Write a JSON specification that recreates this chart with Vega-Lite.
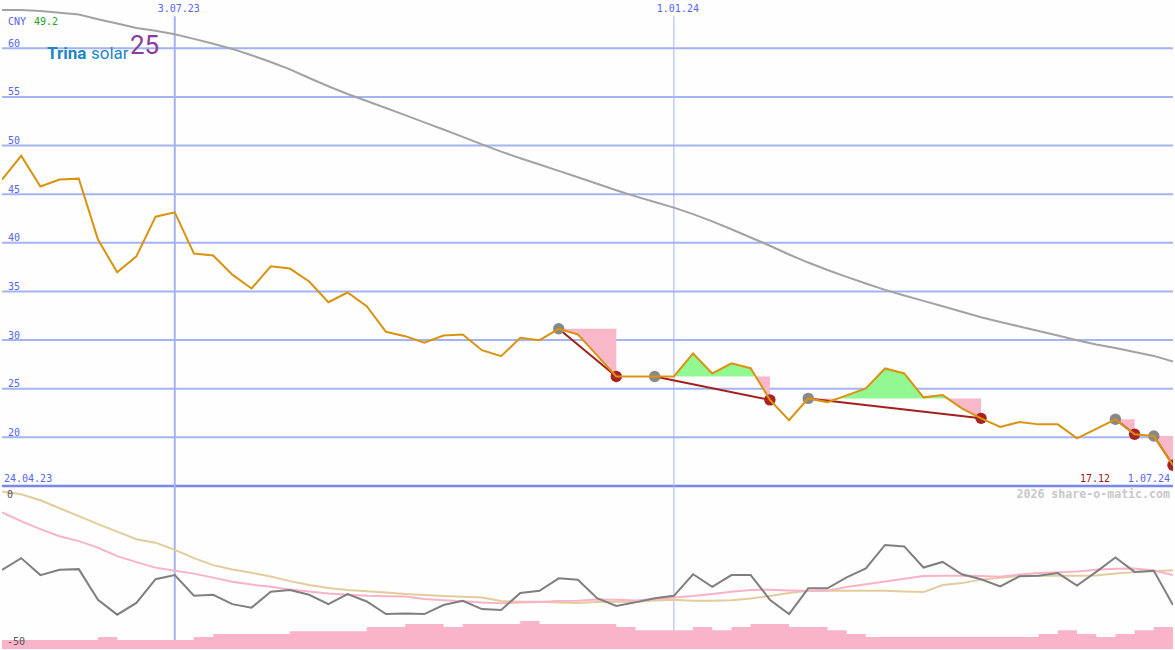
{
"$schema": "https://vega.github.io/schema/vega-lite/v6.json",
"width": 1175, "height": 650,
"autosize": {"type": "fit", "contains": "padding"},
"padding": 0,
"background": "#fdfefd",
"config": {"view": {"stroke": null}},
"resolve": {"scale": {"y": "independent", "color": "independent"}},
"datasets": {
"weekly": [
{"date":"2023-05-01","price":46.49,"ma":63.94,"osc":-24.1,"sig":-4.53,"ema":2.62,"vol":1.4},
{"date":"2023-05-08","price":48.95,"ma":63.94,"osc":-20.1,"sig":-7.5,"ema":1.7,"vol":1.4},
{"date":"2023-05-15","price":45.8,"ma":63.84,"osc":-25.9,"sig":-10.22,"ema":-0.34,"vol":1.4},
{"date":"2023-05-22","price":46.5,"ma":63.66,"osc":-24.1,"sig":-12.61,"ema":-3.07,"vol":1.4},
{"date":"2023-05-29","price":46.6,"ma":63.48,"osc":-23.86,"sig":-14.31,"ema":-5.79,"vol":1.4},
{"date":"2023-06-05","price":40.33,"ma":63.0,"osc":-34.3,"sig":-16.53,"ema":-8.52,"vol":1.85},
{"date":"2023-06-12","price":36.97,"ma":62.56,"osc":-39.4,"sig":-19.43,"ema":-11.08,"vol":1.4},
{"date":"2023-06-19","price":38.61,"ma":62.1,"osc":-35.4,"sig":-21.47,"ema":-13.63,"vol":1.4},
{"date":"2023-06-26","price":42.69,"ma":61.8,"osc":-27.3,"sig":-23.35,"ema":-14.83,"vol":1.4},
{"date":"2023-07-03","price":43.13,"ma":61.45,"osc":-25.9,"sig":-24.44,"ema":-17.28,"vol":1.4},
{"date":"2023-07-10","price":38.89,"ma":60.97,"osc":-32.96,"sig":-25.39,"ema":-20.11,"vol":1.85},
{"date":"2023-07-17","price":38.69,"ma":60.47,"osc":-32.6,"sig":-26.76,"ema":-22.49,"vol":2.3},
{"date":"2023-07-24","price":36.73,"ma":59.94,"osc":-35.8,"sig":-28.15,"ema":-23.99,"vol":2.3},
{"date":"2023-07-31","price":35.3,"ma":59.29,"osc":-37.0,"sig":-29.14,"ema":-25.12,"vol":2.3},
{"date":"2023-08-07","price":37.59,"ma":58.6,"osc":-31.6,"sig":-29.89,"ema":-26.38,"vol":2.3},
{"date":"2023-08-14","price":37.35,"ma":57.83,"osc":-31.0,"sig":-30.78,"ema":-27.95,"vol":2.75},
{"date":"2023-08-21","price":36.02,"ma":56.95,"osc":-32.6,"sig":-31.53,"ema":-29.31,"vol":2.75},
{"date":"2023-08-28","price":33.89,"ma":56.1,"osc":-35.8,"sig":-32.21,"ema":-30.33,"vol":2.75},
{"date":"2023-09-04","price":34.89,"ma":55.3,"osc":-32.4,"sig":-32.58,"ema":-31.02,"vol":2.75},
{"date":"2023-09-11","price":33.48,"ma":54.58,"osc":-34.9,"sig":-32.92,"ema":-31.42,"vol":3.4},
{"date":"2023-09-18","price":30.85,"ma":53.86,"osc":-39.2,"sig":-33.09,"ema":-31.87,"vol":3.4},
{"date":"2023-09-25","price":30.4,"ma":53.13,"osc":-39.0,"sig":-33.23,"ema":-32.38,"vol":3.85},
{"date":"2023-10-02","price":29.72,"ma":52.39,"osc":-39.2,"sig":-34.08,"ema":-32.72,"vol":3.85},
{"date":"2023-10-09","price":30.47,"ma":51.65,"osc":-36.1,"sig":-34.49,"ema":-33.06,"vol":3.4},
{"date":"2023-10-16","price":30.58,"ma":50.9,"osc":-34.7,"sig":-34.83,"ema":-33.3,"vol":3.85},
{"date":"2023-10-23","price":28.96,"ma":50.12,"osc":-37.5,"sig":-35.28,"ema":-33.57,"vol":3.85},
{"date":"2023-10-30","price":28.35,"ma":49.38,"osc":-37.8,"sig":-35.51,"ema":-34.76,"vol":3.85},
{"date":"2023-11-06","price":30.24,"ma":48.7,"osc":-32.0,"sig":-35.28,"ema":-35.0,"vol":4.3},
{"date":"2023-11-13","price":29.99,"ma":48.05,"osc":-31.25,"sig":-35.04,"ema":-35.0,"vol":3.85},
{"date":"2023-11-20","price":31.16,"ma":47.4,"osc":-27.0,"sig":-34.76,"ema":-35.28,"vol":3.85},
{"date":"2023-11-27","price":30.58,"ma":46.75,"osc":-27.5,"sig":-34.63,"ema":-35.45,"vol":3.85},
{"date":"2023-12-04","price":28.42,"ma":46.08,"osc":-33.8,"sig":-34.25,"ema":-35.11,"vol":3.85},
{"date":"2023-12-11","price":26.26,"ma":45.4,"osc":-36.4,"sig":-34.29,"ema":-35.0,"vol":3.4},
{"date":"2023-12-18","price":26.26,"ma":44.78,"osc":-35.2,"sig":-34.59,"ema":-35.0,"vol":2.9},
{"date":"2023-12-25","price":26.26,"ma":44.2,"osc":-33.8,"sig":-34.08,"ema":-34.6,"vol":2.9},
{"date":"2024-01-01","price":26.26,"ma":43.62,"osc":-32.96,"sig":-33.57,"ema":-34.32,"vol":2.9},
{"date":"2024-01-08","price":28.62,"ma":42.95,"osc":-25.6,"sig":-33.06,"ema":-34.66,"vol":3.4},
{"date":"2024-01-15","price":26.57,"ma":42.2,"osc":-29.9,"sig":-32.38,"ema":-34.66,"vol":2.9},
{"date":"2024-01-22","price":27.6,"ma":41.4,"osc":-25.9,"sig":-31.6,"ema":-34.49,"vol":3.4},
{"date":"2024-01-29","price":27.11,"ma":40.55,"osc":-25.9,"sig":-30.95,"ema":-33.91,"vol":3.85},
{"date":"2024-02-05","price":23.85,"ma":39.7,"osc":-34.3,"sig":-30.91,"ema":-33.06,"vol":3.85},
{"date":"2024-02-12","price":21.75,"ma":38.8,"osc":-39.2,"sig":-31.15,"ema":-32.04,"vol":3.4},
{"date":"2024-02-19","price":24.0,"ma":37.97,"osc":-30.4,"sig":-31.36,"ema":-31.25,"vol":3.4},
{"date":"2024-02-26","price":23.62,"ma":37.2,"osc":-30.4,"sig":-31.19,"ema":-31.25,"vol":2.9},
{"date":"2024-03-04","price":24.31,"ma":36.5,"osc":-26.7,"sig":-29.99,"ema":-31.25,"vol":2.3},
{"date":"2024-03-11","price":25.03,"ma":35.82,"osc":-23.6,"sig":-29.04,"ema":-31.25,"vol":1.85},
{"date":"2024-03-18","price":27.08,"ma":35.16,"osc":-15.6,"sig":-28.08,"ema":-31.25,"vol":1.85},
{"date":"2024-03-25","price":26.57,"ma":34.58,"osc":-16.1,"sig":-27.13,"ema":-31.53,"vol":1.85},
{"date":"2024-04-01","price":24.11,"ma":34.03,"osc":-23.3,"sig":-26.24,"ema":-31.7,"vol":1.85},
{"date":"2024-04-08","price":24.34,"ma":33.48,"osc":-21.4,"sig":-26.14,"ema":-29.31,"vol":1.85},
{"date":"2024-04-15","price":22.98,"ma":32.92,"osc":-25.6,"sig":-26.14,"ema":-28.63,"vol":1.85},
{"date":"2024-04-22","price":21.95,"ma":32.35,"osc":-27.3,"sig":-26.24,"ema":-27.44,"vol":1.85},
{"date":"2024-04-29","price":21.06,"ma":31.86,"osc":-29.75,"sig":-26.45,"ema":-26.76,"vol":1.85},
{"date":"2024-05-06","price":21.57,"ma":31.4,"osc":-26.3,"sig":-25.73,"ema":-26.14,"vol":1.85},
{"date":"2024-05-13","price":21.33,"ma":30.94,"osc":-26.1,"sig":-25.19,"ema":-26.14,"vol":2.3},
{"date":"2024-05-20","price":21.33,"ma":30.47,"osc":-25.2,"sig":-24.95,"ema":-26.14,"vol":2.9},
{"date":"2024-05-27","price":19.9,"ma":29.98,"osc":-29.5,"sig":-24.68,"ema":-26.14,"vol":2.3},
{"date":"2024-06-03","price":20.87,"ma":29.55,"osc":-24.8,"sig":-24.06,"ema":-26.07,"vol":1.85},
{"date":"2024-06-10","price":21.85,"ma":29.18,"osc":-19.9,"sig":-23.69,"ema":-25.39,"vol":2.3},
{"date":"2024-06-17","price":20.31,"ma":28.78,"osc":-24.8,"sig":-23.62,"ema":-24.88,"vol":2.9},
{"date":"2024-06-24","price":20.13,"ma":28.37,"osc":-24.4,"sig":-24.3,"ema":-24.54,"vol":3.4},
{"date":"2024-07-01","price":17.12,"ma":27.8,"osc":-36.1,"sig":-25.9,"ema":-24.2,"vol":3.4}
],
"fills": [
{"seg":"a","kind":"dn","date":"2023-11-20","price":31.16,"level":31.16},
{"seg":"a","kind":"dn","date":"2023-11-27","price":30.58,"level":31.16},
{"seg":"a","kind":"dn","date":"2023-12-04","price":28.42,"level":31.16},
{"seg":"a","kind":"dn","date":"2023-12-11","price":26.26,"level":31.16},
{"seg":"b1","kind":"up","date":"2024-01-01","price":26.26,"level":26.26},
{"seg":"b1","kind":"up","date":"2024-01-08","price":28.62,"level":26.26},
{"seg":"b1","kind":"up","date":"2024-01-15","price":26.57,"level":26.26},
{"seg":"b1","kind":"up","date":"2024-01-22","price":27.6,"level":26.26},
{"seg":"b1","kind":"up","date":"2024-01-29","price":27.11,"level":26.26},
{"seg":"b1","kind":"up","date":"2024-01-30T19:00:00Z","price":26.26,"level":26.26},
{"seg":"b2","kind":"dn","date":"2024-01-30T19:00:00Z","price":26.26,"level":26.26},
{"seg":"b2","kind":"dn","date":"2024-02-05","price":23.85,"level":26.26},
{"seg":"c1","kind":"dn","date":"2024-02-19","price":24.0,"level":24.0},
{"seg":"c1","kind":"dn","date":"2024-02-26","price":23.62,"level":24.0},
{"seg":"c1","kind":"dn","date":"2024-03-01T20:00:00Z","price":24.0,"level":24.0},
{"seg":"c2","kind":"up","date":"2024-03-01T20:00:00Z","price":24.0,"level":24.0},
{"seg":"c2","kind":"up","date":"2024-03-04","price":24.31,"level":24.0},
{"seg":"c2","kind":"up","date":"2024-03-11","price":25.03,"level":24.0},
{"seg":"c2","kind":"up","date":"2024-03-18","price":27.08,"level":24.0},
{"seg":"c2","kind":"up","date":"2024-03-25","price":26.57,"level":24.0},
{"seg":"c2","kind":"up","date":"2024-04-01","price":24.11,"level":24.0},
{"seg":"c2","kind":"up","date":"2024-04-08","price":24.34,"level":24.0},
{"seg":"c2","kind":"up","date":"2024-04-09T18:00:00Z","price":24.0,"level":24.0},
{"seg":"c3","kind":"dn","date":"2024-04-09T18:00:00Z","price":24.0,"level":24.0},
{"seg":"c3","kind":"dn","date":"2024-04-15","price":22.98,"level":24.0},
{"seg":"c3","kind":"dn","date":"2024-04-22","price":21.95,"level":24.0},
{"seg":"d","kind":"dn","date":"2024-06-10","price":21.85,"level":21.85},
{"seg":"d","kind":"dn","date":"2024-06-17","price":20.31,"level":21.85},
{"seg":"e","kind":"dn","date":"2024-06-24","price":20.13,"level":20.13},
{"seg":"e","kind":"dn","date":"2024-07-01","price":17.12,"level":20.13}
],
"trend": [
{"seg":"a","role":"hi","date":"2023-11-20","price":31.16},
{"seg":"a","role":"lo","date":"2023-12-11","price":26.26},
{"seg":"b","role":"hi","date":"2023-12-25","price":26.26},
{"seg":"b","role":"lo","date":"2024-02-05","price":23.85},
{"seg":"c","role":"hi","date":"2024-02-19","price":24.0},
{"seg":"c","role":"lo","date":"2024-04-22","price":21.95},
{"seg":"d","role":"hi","date":"2024-06-10","price":21.85},
{"seg":"d","role":"lo","date":"2024-06-17","price":20.31},
{"seg":"e","role":"hi","date":"2024-06-24","price":20.13},
{"seg":"e","role":"lo","date":"2024-07-01","price":17.12}
],
"grid": [{"v":20},{"v":25},{"v":30},{"v":35},{"v":40},{"v":45},{"v":50},{"v":55},{"v":60}]
},
"layer": [
{"data": {"name": "grid"}, "mark": {"type": "rule", "color": "#a3b3f3", "strokeWidth": 2},
 "encoding": {"y": {"field": "v", "type": "quantitative", "scale": {"domain": [-1.77, 64.97], "nice": false, "zero": false}, "axis": null}}},
{"data": {"values": [{"v": 15}]}, "mark": {"type": "rule", "color": "#7787ea", "strokeWidth": 2.5},
 "encoding": {"y": {"field": "v", "type": "quantitative", "scale": {"domain": [-1.77, 64.97], "nice": false, "zero": false}, "axis": null}}},
{"data": {"values": [{"d": "2023-07-03"}]}, "mark": {"type": "rule", "color": "#a3b3f3", "strokeWidth": 2},
 "encoding": {"x": {"field": "d", "type": "temporal", "scale": {"type": "utc", "domain": [1682899200000, 1719792000000], "nice": false}, "axis": null},
  "y": {"datum": 63.3, "type": "quantitative", "scale": {"domain": [-1.77, 64.97], "nice": false, "zero": false}, "axis": null},
  "y2": {"datum": -1.77}}},
{"data": {"values": [{"d": "2024-01-01"}]}, "mark": {"type": "rule", "color": "#a8b4ec", "strokeWidth": 1},
 "encoding": {"x": {"field": "d", "type": "temporal", "scale": {"type": "utc", "domain": [1682899200000, 1719792000000], "nice": false}, "axis": null},
  "y": {"datum": 63.3, "type": "quantitative", "scale": {"domain": [-1.77, 64.97], "nice": false, "zero": false}, "axis": null},
  "y2": {"datum": -1.77}}},
{"data": {"name": "weekly"}, "mark": {"type": "area", "interpolate": "step-after", "color": "#f9b4c9", "clip": true},
 "encoding": {"x": {"field": "date", "type": "temporal", "scale": {"type": "utc", "domain": [1682899200000, 1719792000000], "nice": false}, "axis": null},
  "y": {"field": "vol", "type": "quantitative", "scale": {"domain": [0, 100], "nice": false}, "axis": null}}},
{"data": {"name": "fills"}, "mark": {"type": "area", "opacity": 1, "clip": true},
 "encoding": {"x": {"field": "date", "type": "temporal", "scale": {"type": "utc", "domain": [1682899200000, 1719792000000], "nice": false}, "axis": null},
  "y": {"field": "price", "type": "quantitative", "scale": {"domain": [-1.77, 64.97], "nice": false, "zero": false}, "axis": null},
  "y2": {"field": "level"},
  "color": {"field": "kind", "type": "nominal", "scale": {"domain": ["up", "dn"], "range": ["#92f892", "#f9b8c9"]}, "legend": null},
  "detail": {"field": "seg"}}},
{"data": {"name": "weekly"}, "mark": {"type": "line", "color": "#a2a2a2", "strokeWidth": 2, "clip": true},
 "encoding": {"x": {"field": "date", "type": "temporal", "scale": {"type": "utc", "domain": [1682899200000, 1719792000000], "nice": false}, "axis": null},
  "y": {"field": "ma", "type": "quantitative", "scale": {"domain": [-1.77, 64.97], "nice": false, "zero": false}, "axis": null}}},
{"data": {"name": "weekly"}, "mark": {"type": "line", "color": "#e3cc9c", "strokeWidth": 2, "clip": true},
 "encoding": {"x": {"field": "date", "type": "temporal", "scale": {"type": "utc", "domain": [1682899200000, 1719792000000], "nice": false}, "axis": null},
  "y": {"field": "ema", "type": "quantitative", "scale": {"domain": [-51.12, 170.4], "nice": false, "zero": false}, "axis": null}}},
{"data": {"name": "weekly"}, "mark": {"type": "line", "color": "#f9b2c8", "strokeWidth": 2, "clip": true},
 "encoding": {"x": {"field": "date", "type": "temporal", "scale": {"type": "utc", "domain": [1682899200000, 1719792000000], "nice": false}, "axis": null},
  "y": {"field": "sig", "type": "quantitative", "scale": {"domain": [-51.12, 170.4], "nice": false, "zero": false}, "axis": null}}},
{"data": {"name": "weekly"}, "mark": {"type": "line", "color": "#7f7f7f", "strokeWidth": 2, "clip": true},
 "encoding": {"x": {"field": "date", "type": "temporal", "scale": {"type": "utc", "domain": [1682899200000, 1719792000000], "nice": false}, "axis": null},
  "y": {"field": "osc", "type": "quantitative", "scale": {"domain": [-51.12, 170.4], "nice": false, "zero": false}, "axis": null}}},
{"data": {"name": "trend"}, "mark": {"type": "line", "color": "#a41e1e", "strokeWidth": 2, "clip": true},
 "encoding": {"x": {"field": "date", "type": "temporal", "scale": {"type": "utc", "domain": [1682899200000, 1719792000000], "nice": false}, "axis": null},
  "y": {"field": "price", "type": "quantitative", "scale": {"domain": [-1.77, 64.97], "nice": false, "zero": false}, "axis": null},
  "detail": {"field": "seg"}}},
{"data": {"name": "trend"}, "mark": {"type": "circle", "size": 130, "opacity": 1, "clip": true},
 "encoding": {"x": {"field": "date", "type": "temporal", "scale": {"type": "utc", "domain": [1682899200000, 1719792000000], "nice": false}, "axis": null},
  "y": {"field": "price", "type": "quantitative", "scale": {"domain": [-1.77, 64.97], "nice": false, "zero": false}, "axis": null},
  "color": {"field": "role", "type": "nominal", "scale": {"domain": ["hi", "lo"], "range": ["#888888", "#a82222"]}, "legend": null}}},
{"data": {"name": "weekly"}, "mark": {"type": "line", "color": "#da9310", "strokeWidth": 2, "clip": true},
 "encoding": {"x": {"field": "date", "type": "temporal", "scale": {"type": "utc", "domain": [1682899200000, 1719792000000], "nice": false}, "axis": null},
  "y": {"field": "price", "type": "quantitative", "scale": {"domain": [-1.77, 64.97], "nice": false, "zero": false}, "axis": null}}},
{"data": {"name": "grid"}, "mark": {"type": "text", "align": "left", "baseline": "alphabetic", "dx": 6, "dy": -1.5, "font": "DejaVu Sans Mono", "fontSize": 10, "color": "#5565ee"},
 "encoding": {"x": {"datum": {"year": 2023, "month": 5, "date": 1, "utc": true}, "type": "temporal", "scale": {"type": "utc", "domain": [1682899200000, 1719792000000], "nice": false}, "axis": null},
  "y": {"field": "v", "type": "quantitative", "scale": {"domain": [-1.77, 64.97], "nice": false, "zero": false}, "axis": null},
  "text": {"field": "v", "type": "quantitative"}}},
{"data": {"values": [{"v": 0, "t": "0"}, {"v": -50, "t": "-50"}]}, "mark": {"type": "text", "align": "left", "baseline": "alphabetic", "dx": 5, "dy": -1, "font": "DejaVu Sans Mono", "fontSize": 10, "color": "#555555"},
 "encoding": {"x": {"datum": {"year": 2023, "month": 5, "date": 1, "utc": true}, "type": "temporal", "scale": {"type": "utc", "domain": [1682899200000, 1719792000000], "nice": false}, "axis": null},
  "y": {"field": "v", "type": "quantitative", "scale": {"domain": [-51.12, 170.4], "nice": false, "zero": false}, "axis": null},
  "text": {"field": "t"}}},
{"data": {"values": [{"d": "2023-07-03", "t": "3.07.23"}, {"d": "2024-01-01", "t": "1.01.24"}]}, "mark": {"type": "text", "align": "center", "baseline": "alphabetic", "dx": 4, "font": "DejaVu Sans Mono", "fontSize": 10, "color": "#5565ee"},
 "encoding": {"x": {"field": "d", "type": "temporal", "scale": {"type": "utc", "domain": [1682899200000, 1719792000000], "nice": false}, "axis": null},
  "y": {"datum": 63.7, "type": "quantitative", "scale": {"domain": [-1.77, 64.97], "nice": false, "zero": false}, "axis": null},
  "text": {"field": "t"}}},
{"data": {"values": [{}]}, "mark": {"type": "text", "text": "CNY", "align": "left", "baseline": "alphabetic", "dx": 6, "font": "DejaVu Sans Mono", "fontSize": 10, "color": "#5565ee"},
 "encoding": {"x": {"datum": {"year": 2023, "month": 5, "date": 1, "utc": true}, "type": "temporal", "scale": {"type": "utc", "domain": [1682899200000, 1719792000000], "nice": false}, "axis": null},
  "y": {"datum": 62.4, "type": "quantitative", "scale": {"domain": [-1.77, 64.97], "nice": false, "zero": false}, "axis": null}}},
{"data": {"values": [{}]}, "mark": {"type": "text", "text": "49.2", "align": "left", "baseline": "alphabetic", "dx": 32, "font": "DejaVu Sans Mono", "fontSize": 10, "color": "#22a022"},
 "encoding": {"x": {"datum": {"year": 2023, "month": 5, "date": 1, "utc": true}, "type": "temporal", "scale": {"type": "utc", "domain": [1682899200000, 1719792000000], "nice": false}, "axis": null},
  "y": {"datum": 62.4, "type": "quantitative", "scale": {"domain": [-1.77, 64.97], "nice": false, "zero": false}, "axis": null}}},
{"data": {"values": [{}]}, "mark": {"type": "text", "text": "24.04.23", "align": "left", "baseline": "alphabetic", "dx": 2, "font": "DejaVu Sans Mono", "fontSize": 10, "color": "#5565ee"},
 "encoding": {"x": {"datum": {"year": 2023, "month": 5, "date": 1, "utc": true}, "type": "temporal", "scale": {"type": "utc", "domain": [1682899200000, 1719792000000], "nice": false}, "axis": null},
  "y": {"datum": 15.43, "type": "quantitative", "scale": {"domain": [-1.77, 64.97], "nice": false, "zero": false}, "axis": null}}},
{"data": {"values": [{}]}, "mark": {"type": "text", "text": "1.07.24", "align": "right", "baseline": "alphabetic", "dx": -3, "font": "DejaVu Sans Mono", "fontSize": 10, "color": "#5565ee"},
 "encoding": {"x": {"datum": {"year": 2024, "month": 7, "date": 1, "utc": true}, "type": "temporal", "scale": {"type": "utc", "domain": [1682899200000, 1719792000000], "nice": false}, "axis": null},
  "y": {"datum": 15.43, "type": "quantitative", "scale": {"domain": [-1.77, 64.97], "nice": false, "zero": false}, "axis": null}}},
{"data": {"values": [{}]}, "mark": {"type": "text", "text": "17.12", "align": "right", "baseline": "alphabetic", "dx": -63, "font": "DejaVu Sans Mono", "fontSize": 10, "color": "#a01818"},
 "encoding": {"x": {"datum": {"year": 2024, "month": 7, "date": 1, "utc": true}, "type": "temporal", "scale": {"type": "utc", "domain": [1682899200000, 1719792000000], "nice": false}, "axis": null},
  "y": {"datum": 15.43, "type": "quantitative", "scale": {"domain": [-1.77, 64.97], "nice": false, "zero": false}, "axis": null}}},
{"data": {"values": [{}]}, "mark": {"type": "text", "text": "2026 share-o-matic.com", "align": "right", "baseline": "alphabetic", "dx": -3, "font": "DejaVu Sans Mono", "fontSize": 11.6, "fontWeight": "bold", "color": "#c8c8c8"},
 "encoding": {"x": {"datum": {"year": 2024, "month": 7, "date": 1, "utc": true}, "type": "temporal", "scale": {"type": "utc", "domain": [1682899200000, 1719792000000], "nice": false}, "axis": null},
  "y": {"datum": 13.74, "type": "quantitative", "scale": {"domain": [-1.77, 64.97], "nice": false, "zero": false}, "axis": null}}},
{"data": {"values": [{}]}, "mark": {"type": "text", "text": "Trina", "align": "left", "baseline": "alphabetic", "dx": 45, "font": "Roboto", "fontSize": 17, "fontWeight": "bold", "color": "#1d86c6"},
 "encoding": {"x": {"datum": {"year": 2023, "month": 5, "date": 1, "utc": true}, "type": "temporal", "scale": {"type": "utc", "domain": [1682899200000, 1719792000000], "nice": false}, "axis": null},
  "y": {"datum": 58.9, "type": "quantitative", "scale": {"domain": [-1.77, 64.97], "nice": false, "zero": false}, "axis": null}}},
{"data": {"values": [{}]}, "mark": {"type": "text", "text": "solar", "align": "left", "baseline": "alphabetic", "dx": 89, "font": "Roboto", "fontSize": 17, "color": "#1d86c6"},
 "encoding": {"x": {"datum": {"year": 2023, "month": 5, "date": 1, "utc": true}, "type": "temporal", "scale": {"type": "utc", "domain": [1682899200000, 1719792000000], "nice": false}, "axis": null},
  "y": {"datum": 58.9, "type": "quantitative", "scale": {"domain": [-1.77, 64.97], "nice": false, "zero": false}, "axis": null}}},
{"data": {"values": [{}]}, "mark": {"type": "text", "text": "25", "align": "left", "baseline": "alphabetic", "dx": 128, "font": "Roboto", "fontSize": 26, "color": "#8a3c9c"},
 "encoding": {"x": {"datum": {"year": 2023, "month": 5, "date": 1, "utc": true}, "type": "temporal", "scale": {"type": "utc", "domain": [1682899200000, 1719792000000], "nice": false}, "axis": null},
  "y": {"datum": 59.4, "type": "quantitative", "scale": {"domain": [-1.77, 64.97], "nice": false, "zero": false}, "axis": null}}}
]
}
